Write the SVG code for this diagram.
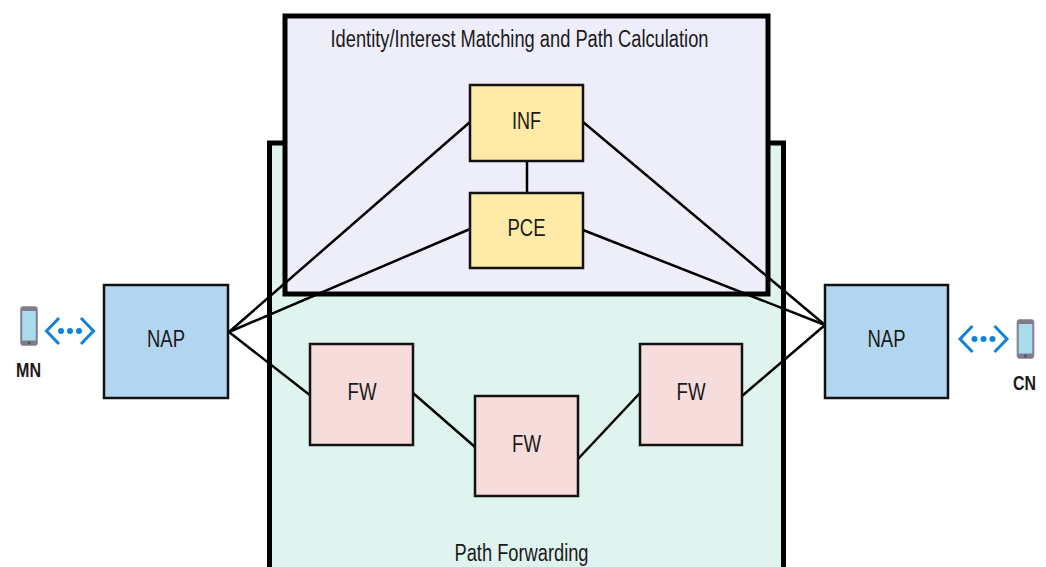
<svg xmlns="http://www.w3.org/2000/svg" width="1046" height="567" viewBox="0 0 1046 567">
<style>
text{font-family:"Liberation Sans",Arial,sans-serif;font-size:23px;fill:#1a1a1a;text-anchor:middle}
.b{font-weight:bold;font-size:20px}
.n{stroke:#111;stroke-width:2.5}
.c line{stroke:#000;stroke-width:2.5}
.ch{fill:none;stroke:#0f82dc;stroke-width:3}
.dot{fill:#0f82dc}
</style>
<defs>
<g id="phone"><rect x="-8.5" y="-19.5" width="17" height="39" rx="2.5" fill="#7f7a8c" stroke="#9a96a6" stroke-width=".8"/><rect x="-6.8" y="-15" width="13.6" height="29.500" fill="#a8dcec"/><circle cy="17" r="1.5" fill="#55525f"/></g>
<g id="sync"><path class="ch" d="M-11-13-23.500 0-11 13M11-13 23.500 0 11 13"/><circle class="dot" cx="-9" r="3"/><circle class="dot" r="3"/><circle class="dot" cx="9" r="3"/></g>
</defs>
<g id="forwarding"><rect x="269.500" y="143" width="514" height="440" fill="#dff4ef" stroke="#000" stroke-width="5"/><text x="521.500" y="561" textLength="134" lengthAdjust="spacingAndGlyphs">Path Forwarding</text></g>
<g id="matching"><rect x="285" y="16" width="483" height="278" fill="#eeedfa" stroke="#000" stroke-width="5"/><text x="519.500" y="47" textLength="378" lengthAdjust="spacingAndGlyphs">Identity/Interest Matching and Path Calculation</text></g>
<g class="c" id="connectors">
<line x1="470" y1="122" x2="229" y2="332"/><line x1="470" y1="229" x2="229" y2="332"/><line x1="229" y1="332" x2="311" y2="396"/>
<line x1="583" y1="122" x2="825" y2="325"/><line x1="583" y1="230" x2="825" y2="325"/><line x1="825" y1="325" x2="742" y2="396"/>
<line x1="527" y1="161" x2="527" y2="193"/><line x1="413" y1="393" x2="475" y2="447"/><line x1="578" y1="459" x2="640" y2="393"/>
</g>
<g id="inf"><rect class="n" x="470" y="85" width="113" height="76" fill="#ffeaa8"/><text x="526.500" y="129" textLength="29" lengthAdjust="spacingAndGlyphs">INF</text></g>
<g id="pce"><rect class="n" x="470" y="193" width="113" height="75" fill="#ffeaa8"/><text x="526.500" y="236" textLength="38" lengthAdjust="spacingAndGlyphs">PCE</text></g>
<g id="nap-left"><rect class="n" x="104" y="285" width="124" height="113" fill="#b3d6f0"/><text x="166" y="347" textLength="38" lengthAdjust="spacingAndGlyphs">NAP</text></g>
<g id="nap-right"><rect class="n" x="825" y="285" width="123" height="113" fill="#b3d6f0"/><text x="886.500" y="347" textLength="38" lengthAdjust="spacingAndGlyphs">NAP</text></g>
<g id="fw1"><rect class="n" x="310" y="344" width="103" height="101" fill="#f7dcdc"/><text x="362" y="400" textLength="29" lengthAdjust="spacingAndGlyphs">FW</text></g>
<g id="fw2"><rect class="n" x="475" y="396" width="103" height="100" fill="#f7dcdc"/><text x="526.500" y="452" textLength="29" lengthAdjust="spacingAndGlyphs">FW</text></g>
<g id="fw3"><rect class="n" x="640" y="344" width="102" height="101" fill="#f7dcdc"/><text x="691" y="400" textLength="29" lengthAdjust="spacingAndGlyphs">FW</text></g>
<g id="mn"><use href="#phone" x="29" y="326"/><use href="#sync" x="70" y="331"/><text class="b" x="28.500" y="377" textLength="25" lengthAdjust="spacingAndGlyphs">MN</text></g>
<g id="cn"><use href="#phone" x="1025.500" y="339"/><use href="#sync" x="983.500" y="339"/><text class="b" x="1024.500" y="390" textLength="23" lengthAdjust="spacingAndGlyphs">CN</text></g>
</svg>
